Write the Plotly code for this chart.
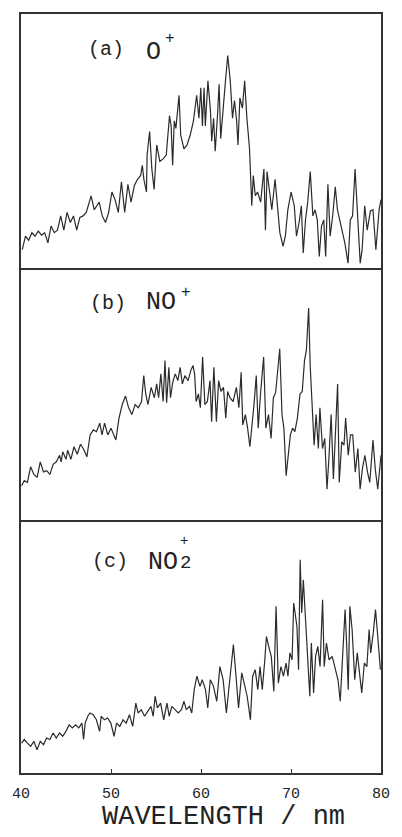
import plotly.graph_objects as go

# Photoion yield spectra, 40-80 nm; intensities in arbitrary units (0-100 per panel)

# (a) O+
wl_o = [40.14, 40.50, 40.85, 41.21, 41.56, 41.92, 42.28, 42.63, 42.99, 43.34,
        43.70, 44.05, 44.41, 44.76, 45.12, 45.48, 45.83, 46.19, 46.54, 46.90,
        47.25, 47.79, 48.14, 48.68, 49.03, 49.39, 49.74, 50.10, 50.45, 50.81,
        51.16, 51.52, 51.88, 52.23, 52.59, 52.94, 53.30, 53.48, 53.65, 53.94,
        54.01, 54.29, 54.54, 54.79, 55.08, 55.43, 55.79, 56.14, 56.50, 56.68,
        56.85, 57.03, 57.21, 57.56, 57.74, 58.10, 58.45, 58.81, 59.16, 59.34,
        59.52, 59.77, 59.98, 60.16, 60.34, 60.48, 60.77, 61.05, 61.19, 61.40,
        61.58, 61.83, 62.01, 62.19, 62.44, 62.72, 62.97, 63.25, 63.50, 63.72,
        63.96, 64.11, 64.32, 64.60, 64.85, 65.10, 65.39, 65.64, 65.81, 66.03,
        66.28, 66.63, 66.99, 67.16, 67.34, 67.59, 67.87, 68.23, 68.52, 68.76,
        69.12, 69.37, 69.65, 70.01, 70.36, 70.61, 70.90, 71.15, 71.36, 71.61,
        71.86, 72.14, 72.43, 72.68, 72.92, 73.14, 73.39, 73.64, 73.85, 74.10,
        74.35, 74.63, 74.92, 75.16, 75.41, 75.70, 75.98, 76.34, 76.59, 76.84,
        77.12, 77.40, 77.69, 77.90, 78.19, 78.47, 78.83, 79.11, 79.43, 79.79,
        80.00]
int_o = [7.3, 12.6, 11.0, 14.0, 12.6, 14.6, 13.0, 14.0, 10.0, 16.6,
         14.0, 15.0, 20.6, 15.0, 22.0, 18.0, 20.6, 15.0, 20.0, 20.6,
         22.0, 28.5, 23.0, 26.0, 20.6, 18.0, 22.0, 30.0, 27.0, 22.0,
         34.0, 22.0, 33.0, 26.0, 32.5, 35.0, 36.5, 40.5, 35.0, 30.0,
         44.5, 53.8, 39.0, 31.0, 48.5, 42.0, 43.0, 44.5, 60.0, 56.0,
         40.5, 58.0, 55.0, 68.0, 52.5, 47.0, 48.5, 52.5, 58.0, 63.0,
         68.0, 59.0, 71.0, 56.0, 71.0, 56.0, 73.7, 62.0, 50.0, 59.0,
         46.0, 60.0, 72.4, 51.0, 63.0, 73.7, 83.7, 73.7, 59.0, 66.0,
         58.0, 48.5, 67.0, 63.0, 73.7, 59.0, 47.0, 24.6, 36.5, 28.5,
         30.0, 26.0, 39.0, 15.0, 38.0, 31.0, 23.0, 35.0, 24.6, 14.0,
         8.6, 12.6, 23.0, 30.0, 24.6, 12.6, 18.0, 24.6, 6.0, 19.0,
         26.0, 38.0, 20.6, 23.0, 19.0, 4.6, 16.6, 19.0, 4.6, 33.0,
         12.6, 20.6, 32.0, 23.0, 19.0, 14.0, 10.0, 2.0, 19.0, 20.6,
         39.0, 20.6, 2.0, 7.3, 24.6, 15.0, 22.6, 23.0, 7.3, 23.0,
         27.0]

# (b) NO+
wl_no = [40.07, 40.36, 40.71, 41.07, 41.43, 41.79, 42.14, 42.50, 42.86, 43.21,
         43.57, 43.93, 44.29, 44.46, 44.64, 45.00, 45.18, 45.54, 45.89, 46.25,
         46.61, 46.96, 47.32, 47.68, 48.04, 48.39, 48.75, 49.00, 49.29, 49.64,
         50.00, 50.54, 50.89, 51.25, 51.61, 51.96, 52.32, 52.68, 53.04, 53.39,
         53.64, 53.86, 54.11, 54.46, 54.82, 55.07, 55.29, 55.54, 55.79, 56.00,
         56.18, 56.43, 56.61, 56.86, 57.14, 57.43, 57.68, 57.93, 58.21, 58.57,
         58.86, 59.11, 59.29, 59.46, 59.71, 59.93, 60.18, 60.43, 60.71, 61.00,
         61.18, 61.43, 61.71, 61.96, 62.21, 62.50, 62.75, 62.96, 63.21, 63.57,
         63.93, 64.21, 64.46, 64.64, 64.93, 65.18, 65.43, 65.64, 65.89, 66.14,
         66.36, 66.61, 66.96, 67.21, 67.50, 67.79, 68.04, 68.29, 68.50, 68.75,
         69.00, 69.21, 69.46, 69.64, 69.93, 70.18, 70.43, 70.71, 71.00, 71.25,
         71.50, 71.71, 71.96, 72.14, 72.39, 72.57, 72.79, 73.04, 73.21, 73.50,
         73.75, 74.00, 74.21, 74.46, 74.71, 75.00, 75.18, 75.36, 75.64, 75.89,
         76.07, 76.36, 76.61, 76.86, 77.14, 77.43, 77.68, 77.93, 78.21, 78.50,
         78.75, 79.11, 79.36, 79.64, 79.82, 80.00]
int_no = [13.5, 15.5, 14.8, 21.0, 18.0, 16.8, 23.0, 19.0, 19.5, 18.0,
          22.0, 23.0, 25.6, 23.0, 27.0, 24.0, 27.6, 24.0, 29.0, 26.0,
          30.0, 28.0, 25.0, 33.7, 35.7, 35.0, 38.4, 33.7, 38.4, 33.7,
          36.4, 31.7, 40.4, 45.8, 49.2, 44.5, 41.8, 45.8, 44.5, 47.0,
          57.3, 50.0, 45.8, 52.6, 48.5, 54.0, 48.5, 58.0, 47.0, 63.3,
          46.5, 60.6, 48.5, 54.6, 58.0, 55.3, 60.6, 54.0, 57.3, 55.3,
          59.3, 61.3, 58.0, 47.0, 50.0, 44.5, 64.7, 45.8, 47.0, 55.3,
          39.0, 60.6, 39.0, 55.3, 51.0, 52.6, 40.4, 51.0, 48.5, 47.0,
          52.6, 44.5, 58.6, 37.7, 41.8, 36.4, 29.0, 36.4, 45.8, 57.3,
          36.4, 50.0, 64.7, 36.4, 41.8, 32.3, 48.5, 50.5, 58.0, 68.0,
          41.8, 36.4, 17.5, 23.0, 33.7, 36.4, 35.0, 40.4, 50.0, 51.0,
          63.3, 67.4, 84.2, 60.6, 39.0, 29.6, 41.8, 28.3, 44.5, 28.3,
          32.3, 12.1, 24.3, 41.8, 16.2, 40.4, 54.0, 14.8, 31.0, 29.6,
          40.4, 25.6, 33.7, 33.7, 18.9, 28.3, 12.1, 20.2, 25.6, 18.9,
          14.8, 31.7, 20.2, 12.1, 20.2, 25.6]

# (c) NO2+
wl_no2 = [40.07, 40.36, 40.71, 41.07, 41.43, 41.78, 42.14, 42.50, 42.85, 43.21,
          43.57, 43.92, 44.28, 44.63, 44.99, 45.35, 45.70, 46.06, 46.42, 46.77,
          46.95, 47.13, 47.42, 47.66, 48.02, 48.38, 48.73, 48.91, 49.27, 49.63,
          49.98, 50.34, 50.62, 50.98, 51.34, 51.69, 52.05, 52.41, 52.76, 53.01,
          53.37, 53.73, 54.08, 54.44, 54.69, 54.90, 55.15, 55.51, 55.86, 56.22,
          56.47, 56.76, 57.11, 57.47, 57.83, 58.11, 58.36, 58.72, 58.97, 59.25,
          59.54, 59.89, 60.14, 60.50, 60.75, 61.03, 61.39, 61.75, 62.10, 62.46,
          62.82, 63.10, 63.35, 63.60, 63.89, 64.17, 64.53, 64.78, 65.13, 65.49,
          65.74, 66.02, 66.31, 66.56, 66.81, 67.09, 67.27, 67.52, 67.81, 68.09,
          68.34, 68.59, 68.88, 69.16, 69.45, 69.66, 69.88, 70.12, 70.30, 70.66,
          70.84, 71.02, 71.19, 71.37, 71.66, 71.91, 72.09, 72.26, 72.51, 72.73,
          72.98, 73.23, 73.51, 73.69, 73.94, 74.22, 74.58, 74.94, 75.22, 75.47,
          75.72, 76.01, 76.19, 76.36, 76.54, 76.79, 77.08, 77.36, 77.61, 77.86,
          78.15, 78.43, 78.68, 78.86, 79.14, 79.39, 79.64, 79.93]
int_no2 = [11.8, 13.2, 11.8, 10.5, 12.5, 9.2, 12.5, 11.2, 13.8, 13.2,
           15.8, 13.8, 15.8, 14.5, 16.4, 19.0, 17.8, 19.0, 17.8, 19.7,
           13.2, 19.7, 22.4, 23.7, 23.0, 21.0, 16.4, 22.4, 21.0, 21.7,
           19.7, 14.5, 19.7, 18.4, 21.0, 19.7, 23.0, 18.4, 27.6, 23.7,
           25.0, 22.4, 24.3, 26.3, 22.4, 30.3, 25.7, 27.6, 21.0, 27.6,
           22.4, 26.3, 25.0, 23.7, 25.0, 28.3, 25.0, 26.3, 23.7, 32.9,
           38.2, 34.2, 36.8, 32.9, 25.7, 36.8, 34.2, 28.3, 42.0, 36.8,
           23.7, 34.2, 40.8, 50.7, 38.2, 25.7, 39.5, 35.5, 30.3, 21.0,
           38.2, 40.8, 32.9, 42.0, 32.9, 44.7, 53.9, 50.0, 46.0, 32.2,
           65.8, 35.5, 42.0, 38.2, 43.4, 38.2, 47.4, 44.7, 67.1, 57.9,
           40.8, 84.2, 63.2, 76.3, 56.6, 44.7, 30.3, 51.3, 31.6, 46.0,
           50.0, 42.0, 68.4, 42.0, 51.3, 44.7, 46.0, 40.8, 36.8, 28.3,
           47.4, 64.5, 50.0, 32.9, 65.8, 56.6, 36.8, 47.4, 39.5, 31.6,
           43.4, 42.0, 56.6, 47.4, 55.3, 64.5, 53.9, 40.8]

panel_labels = ["(a)", "(b)", "(c)"]
tick_vals = [40, 50, 60, 70, 80]
x_title = "WAVELENGTH / nm"

INK = "#2b2b2b"
FRAME = "#333333"
MONO = "Liberation Mono, DejaVu Sans Mono, monospace"

fig = go.Figure()
line_style = dict(color=INK, width=1.2)
fig.add_trace(go.Scatter(x=wl_o, y=int_o, mode="lines", line=line_style,
                         xaxis="x3", yaxis="y3", showlegend=False))
fig.add_trace(go.Scatter(x=wl_no, y=int_no, mode="lines", line=line_style,
                         xaxis="x2", yaxis="y2", showlegend=False))
fig.add_trace(go.Scatter(x=wl_no2, y=int_no2, mode="lines", line=line_style,
                         xaxis="x", yaxis="y", showlegend=False))

# frame: each x axis draws only its bottom edge, so shared dividers stay single
edge = dict(showline=True, linecolor=FRAME, linewidth=1.6,
            showgrid=False, zeroline=False)
yax = dict(edge, mirror=True, range=[0, 100], showticklabels=False, ticks="")

fig.update_layout(
    width=402, height=837,
    margin=dict(l=14, r=13, t=12, b=64),
    paper_bgcolor="white", plot_bgcolor="white",
    xaxis=dict(edge, mirror=False, range=[40, 80], anchor="y",
               tickvals=tick_vals, ticks="inside", ticklen=4,
               tickcolor=FRAME, ticklabelstandoff=5,
               tickfont=dict(family=MONO, size=15, color="#222")),
    xaxis2=dict(edge, mirror=False, range=[40, 80], anchor="y2", matches="x",
                showticklabels=False, ticks=""),
    xaxis3=dict(edge, mirror=True, range=[40, 80], anchor="y3", matches="x",
                showticklabels=False, ticks=""),
    yaxis=dict(yax, domain=[0.0, 0.3338], anchor="x"),
    yaxis2=dict(yax, domain=[0.3338, 0.665], anchor="x2"),
    yaxis3=dict(yax, domain=[0.665, 1.0], anchor="x3"),
)

def label(text, x, y, size, pad=1):
    fig.add_annotation(text=text, x=x, y=y, xref="paper", yref="paper",
                       showarrow=False, xanchor="center", yanchor="middle",
                       borderpad=pad,
                       font=dict(family=MONO, size=size, color="#222"))

# panel tags and ion species
label(panel_labels[0], 0.237, 0.9527, 20)
label("O", 0.368, 0.9488, 25)
label("+", 0.415, 0.9671, 16)

label(panel_labels[1], 0.2427, 0.6189, 20)
label("NO", 0.3893, 0.6202, 25)
label("+", 0.457, 0.6321, 16)

label(panel_labels[2], 0.248, 0.2786, 20)
label("NO", 0.3947, 0.2773, 25)
label("2", 0.456, 0.2773, 19, pad=0)
label("+", 0.4533, 0.3062, 14, pad=0)

# axis title
label(x_title, 0.563, -0.0578, 27)

fig.write_html("out.html")
